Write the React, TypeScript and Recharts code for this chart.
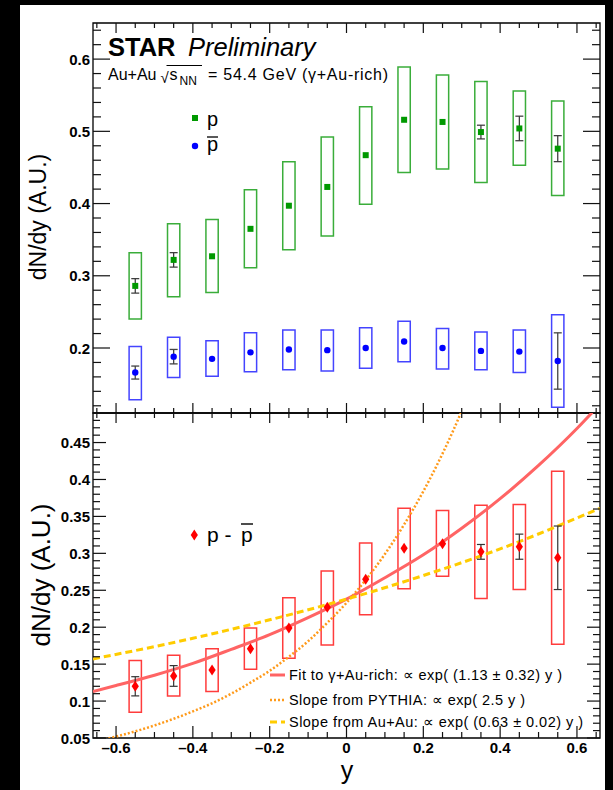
import React from 'react';
import { ComposedChart, XAxis, YAxis, Scatter, Line, ReferenceArea, ErrorBar } from 'recharts';

// ---------- data ----------
const rapidity = [-0.55, -0.45, -0.35, -0.25, -0.15, -0.05, 0.05, 0.15, 0.25, 0.35, 0.45, 0.55];

const protonVal = [0.286, 0.322, 0.327, 0.365, 0.397, 0.423, 0.467, 0.516, 0.513, 0.499, 0.504, 0.476];
const protonStat = [0.010, 0.010, 0, 0, 0, 0, 0, 0, 0, 0.0095, 0.017, 0.018];
const protonSysLo = [0.240, 0.271, 0.277, 0.311, 0.336, 0.355, 0.399, 0.443, 0.448, 0.429, 0.453, 0.411];
const protonSysHi = [0.332, 0.372, 0.378, 0.419, 0.458, 0.492, 0.534, 0.589, 0.578, 0.569, 0.556, 0.542];

const antiVal = [0.166, 0.188, 0.185, 0.194, 0.198, 0.197, 0.200, 0.209, 0.200, 0.196, 0.195, 0.182];
const antiStat = [0.009, 0.010, 0, 0, 0, 0, 0, 0, 0, 0, 0, 0.039];
const antiSysLo = [0.1285, 0.159, 0.161, 0.167, 0.170, 0.168, 0.172, 0.181, 0.171, 0.170, 0.166, 0.118];
const antiSysHi = [0.202, 0.215, 0.210, 0.221, 0.225, 0.225, 0.228, 0.237, 0.227, 0.222, 0.225, 0.246];

const netVal = [0.120, 0.134, 0.142, 0.171, 0.199, 0.227, 0.265, 0.307, 0.313, 0.302, 0.309, 0.294];
const netStat = [0.013, 0.014, 0, 0, 0, 0, 0, 0, 0, 0.010, 0.017, 0.043];
const netSysLo = [0.085, 0.107, 0.113, 0.143, 0.158, 0.176, 0.217, 0.252, 0.269, 0.239, 0.251, 0.177];
const netSysHi = [0.155, 0.162, 0.171, 0.199, 0.240, 0.276, 0.314, 0.361, 0.358, 0.365, 0.366, 0.411];

// curves
const fitX = [-0.66, -0.6, -0.5, -0.4, -0.3, -0.2, -0.1, 0, 0.1, 0.2, 0.3, 0.4, 0.5, 0.6, 0.66];
const fitY = [0.113, 0.121, 0.135, 0.151, 0.170, 0.190, 0.213, 0.238, 0.267, 0.298, 0.334, 0.374, 0.419, 0.469, 0.502];

const pythiaX = [-0.64, -0.6, -0.55, -0.5, -0.45, -0.4, -0.35, -0.3, -0.25, -0.2, -0.15, -0.1, -0.05, 0, 0.05, 0.1, 0.15, 0.2, 0.25, 0.3, 0.32];
const pythiaY = [0.047, 0.052, 0.059, 0.067, 0.076, 0.086, 0.097, 0.110, 0.125, 0.141, 0.160, 0.181, 0.206, 0.233, 0.264, 0.299, 0.339, 0.384, 0.435, 0.493, 0.519];

const auauX = [-0.66, -0.4, -0.2, 0, 0.2, 0.4, 0.66];
const auauY = [0.157, 0.185, 0.210, 0.238, 0.270, 0.306, 0.361];

// axes
const xDomain = [-0.66, 0.66];
const topDomain = [0.11, 0.65];
const botDomain = [0.05, 0.49];
const xMajor = [-0.6, -0.4, -0.2, 0, 0.2, 0.4, 0.6];
const xLabels = ['\u20130.6', '\u20130.4', '\u20130.2', '0', '0.2', '0.4', '0.6'];
const topMajor = [0.2, 0.3, 0.4, 0.5, 0.6];
const topLabels = ['0.2', '0.3', '0.4', '0.5', '0.6'];
const botMajor = [0.05, 0.1, 0.15, 0.2, 0.25, 0.3, 0.35, 0.4, 0.45];
const botLabels = ['0.05', '0.1', '0.15', '0.2', '0.25', '0.3', '0.35', '0.4', '0.45'];

const steps = (a: number, b: number, s: number) => {
  const out: number[] = [];
  for (let i = 0; a + i * s <= b + 1e-9; i++) out.push(Math.round((a + i * s) * 1000) / 1000);
  return out;
};
const xTicks = steps(-0.65, 0.65, 0.05);
const topTicks = steps(0.12, 0.64, 0.02);
const botTicks = steps(0.05, 0.49, 0.01);

// ---------- layout ----------
const W = 613;
const H = 790;
const L = 93;
const R = 600;
const T = 23;
const M = 413;
const B = 738;
const YAXIS_W = 60;
const XAXIS_H = 30;
const FONT = '"Liberation Sans", Arial, Helvetica, sans-serif';

const rows = (vals: number[], stat: number[]) => rapidity.map((x, i) => ({ x, y: vals[i], e: stat[i] }));
const curve = (xs: number[], ys: number[]) => xs.map((x, i) => ({ x, y: ys[i] }));

const findIdx = (arr: number[], v: number) => arr.findIndex((m) => Math.abs(m - v) < 1e-6);

const yTick = (majors: number[], labels: string[], majLen: number, minLen: number) => (p: any) => {
  const y = p.payload && typeof p.payload.coordinate === 'number' ? p.payload.coordinate : p.y;
  const idx = findIdx(majors, p.payload.value);
  const len = idx >= 0 ? majLen : minLen;
  return (
    <g>
      <line x1={L} x2={L + len} y1={y} y2={y} stroke="#111" strokeWidth={1.2} />
      <line x1={R - len} x2={R} y1={y} y2={y} stroke="#111" strokeWidth={1.2} />
      {idx >= 0 && (
        <text x={90} y={y} textAnchor="end" dominantBaseline="central" fontFamily={FONT} fontWeight="bold" fontSize={15} fill="#000">
          {labels[idx]}
        </text>
      )}
    </g>
  );
};

const xTick = (top: number, bottom: number, topMaj: number, botMaj: number, showLabels: boolean) => (p: any) => {
  const x = p.payload && typeof p.payload.coordinate === 'number' ? p.payload.coordinate : p.x;
  const idx = findIdx(xMajor, p.payload.value);
  const tl = idx >= 0 ? topMaj : topMaj / 2;
  const bl = idx >= 0 ? botMaj : botMaj / 2;
  return (
    <g>
      <line x1={x} x2={x} y1={top} y2={top + tl} stroke="#111" strokeWidth={1.2} />
      <line x1={x} x2={x} y1={bottom - bl} y2={bottom} stroke="#111" strokeWidth={1.2} />
      {showLabels && idx >= 0 && (
        <text x={x} y={753} textAnchor="middle" fontFamily={FONT} fontWeight="bold" fontSize={15} fill="#000">
          {xLabels[idx]}
        </text>
      )}
    </g>
  );
};

const square = (color: string) => (p: any) => <rect x={p.cx - 3} y={p.cy - 3} width={6} height={6} fill={color} />;
const circle = (color: string) => (p: any) => <circle cx={p.cx} cy={p.cy} r={3.2} fill={color} />;
const diamond = (color: string) => (p: any) => (
  <path d={`M${p.cx},${p.cy - 5.5} L${p.cx + 3.6},${p.cy} L${p.cx},${p.cy + 5.5} L${p.cx - 3.6},${p.cy} Z`} fill={color} />
);
const noShape = () => <g />;

const BOX_HALF = 0.016;

const boxes = (lo: number[], hi: number[], color: string, key: string) =>
  rapidity.map((x, i) => (
    <ReferenceArea
      key={`${key}${i}`}
      x1={x - BOX_HALF}
      x2={x + BOX_HALF}
      y1={lo[i]}
      y2={hi[i]}
      fill="none"
      fillOpacity={0}
      stroke={color}
      strokeWidth={1.5}
      ifOverflow="hidden"
    />
  ));

const errRows = (vals: number[], stat: number[]) => rows(vals, stat).filter((r) => r.e > 0);

export default function App() {
  return (
    <div style={{ position: 'absolute', left: 0, top: 0, width: W, height: H, background: '#000', overflow: 'hidden' }}>
      <div style={{ position: 'absolute', left: 20, top: 5, width: 585, height: 785, background: '#fff' }} />

      {/* top panel */}
      <div style={{ position: 'absolute', left: 0, top: 0 }}>
        <ComposedChart width={W} height={H} margin={{ top: T, right: W - R, bottom: H - M - XAXIS_H, left: L - YAXIS_W }}>
          <XAxis
            type="number"
            dataKey="x"
            domain={xDomain}
            allowDataOverflow
            ticks={xTicks}
            interval={0}
            height={XAXIS_H}
            axisLine={false}
            tickLine={false}
            tick={xTick(T, M, 10, 10, false)}
          />
          <YAxis
            type="number"
            dataKey="y"
            domain={topDomain}
            allowDataOverflow
            ticks={topTicks}
            interval={0}
            width={YAXIS_W}
            axisLine={false}
            tickLine={false}
            tick={yTick(topMajor, topLabels, 17, 8)}
          />
          {boxes(protonSysLo, protonSysHi, '#3aad3a', 'pb')}
          {boxes(antiSysLo, antiSysHi, '#4444ff', 'ab')}
          <Scatter data={errRows(protonVal, protonStat)} dataKey="y" shape={noShape} isAnimationActive={false}>
            <ErrorBar dataKey="e" direction="y" width={4} stroke="#333" strokeWidth={1.2} />
          </Scatter>
          <Scatter data={errRows(antiVal, antiStat)} dataKey="y" shape={noShape} isAnimationActive={false}>
            <ErrorBar dataKey="e" direction="y" width={4} stroke="#444" strokeWidth={1.3} />
          </Scatter>
          <Scatter data={rows(protonVal, protonStat)} dataKey="y" shape={square('#009900')} isAnimationActive={false} />
          <Scatter data={rows(antiVal, antiStat)} dataKey="y" shape={circle('#0000ff')} isAnimationActive={false} />
          <ReferenceArea x1={xDomain[0]} x2={xDomain[1]} y1={topDomain[0]} y2={topDomain[1]} fill="none" fillOpacity={0} stroke="#000" strokeWidth={1.3} />
        </ComposedChart>
      </div>

      {/* bottom panel */}
      <div style={{ position: 'absolute', left: 0, top: 0 }}>
        <ComposedChart width={W} height={H} margin={{ top: M, right: W - R, bottom: H - B - XAXIS_H, left: L - YAXIS_W }}>
          <XAxis
            type="number"
            dataKey="x"
            domain={xDomain}
            allowDataOverflow
            ticks={xTicks}
            interval={0}
            height={XAXIS_H}
            axisLine={false}
            tickLine={false}
            tick={xTick(M, B, 10, 12, true)}
          />
          <YAxis
            type="number"
            dataKey="y"
            domain={botDomain}
            allowDataOverflow
            ticks={botTicks}
            interval={0}
            width={YAXIS_W}
            axisLine={false}
            tickLine={false}
            tick={yTick(botMajor, botLabels, 13, 7)}
          />
          {boxes(netSysLo, netSysHi, '#ff3c3c', 'nb')}
          <Line data={curve(fitX, fitY)} dataKey="y" type="monotone" stroke="#ff6464" strokeWidth={3} dot={false} isAnimationActive={false} />
          <Line data={curve(pythiaX, pythiaY)} dataKey="y" type="monotone" stroke="#ff9a1a" strokeWidth={2.5} strokeDasharray="2 2" dot={false} isAnimationActive={false} />
          <Line data={curve(auauX, auauY)} dataKey="y" type="monotone" stroke="#ffcc00" strokeWidth={3} strokeDasharray="7 4" dot={false} isAnimationActive={false} />
          <Scatter data={errRows(netVal, netStat)} dataKey="y" shape={noShape} isAnimationActive={false}>
            <ErrorBar dataKey="e" direction="y" width={4} stroke="#333" strokeWidth={1.2} />
          </Scatter>
          <Scatter data={rows(netVal, netStat)} dataKey="y" shape={diamond('#ff0000')} isAnimationActive={false} />
          <ReferenceArea x1={xDomain[0]} x2={xDomain[1]} y1={botDomain[0]} y2={botDomain[1]} fill="none" fillOpacity={0} stroke="#000" strokeWidth={1.3} />
        </ComposedChart>
      </div>

      {/* texts */}
      <svg width={W} height={H} style={{ position: 'absolute', left: 0, top: 0 }} fontFamily={FONT}>
        <text x={108} y={56} fontSize={25.5} fontWeight="bold">STAR</text>
        <text x={188} y={56} fontSize={25.5} fontStyle="italic">Preliminary</text>
        <text x={108} y={80} fontSize={16}>Au+Au</text>
        <text x={160.5} y={83} fontSize={15}>{'\u221A'}</text>
        <line x1={166.5} x2={202} y1={65.5} y2={65.5} stroke="#000" strokeWidth={1} />
        <text x={169.5} y={80} fontSize={16}>s</text>
        <text x={179.5} y={84.5} fontSize={12}>NN</text>
        <text x={208} y={80} fontSize={16} textLength={180} lengthAdjust="spacing">= 54.4 GeV ({'\u03B3'}+Au-rich)</text>

        {/* top legend */}
        <rect x={192} y={115} width={6} height={6} fill="#009900" />
        <text x={207} y={126} fontSize={20}>p</text>
        <circle cx={195} cy={146} r={3.2} fill="#0000ff" />
        <text x={207} y={151} fontSize={20}>p</text>
        <line x1={207} x2={218} y1={137} y2={137} stroke="#000" strokeWidth={1.3} />

        {/* bottom legend */}
        <path d="M194.3,529.5 L197.9,535 L194.3,540.5 L190.7,535 Z" fill="#ff0000" />
        <text x={207} y={542} fontSize={21}>p -</text>
        <text x={241} y={542} fontSize={21}>p</text>
        <line x1={241} x2={253} y1={524} y2={524} stroke="#000" strokeWidth={1.4} />

        {/* fit legend */}
        <line x1={270} x2={285} y1={675} y2={675} stroke="#ff6464" strokeWidth={3} />
        <line x1={270} x2={285} y1={700} y2={700} stroke="#ff9a1a" strokeWidth={2.5} strokeDasharray="2 2" />
        <line x1={270} x2={285} y1={722} y2={722} stroke="#ffcc00" strokeWidth={3} strokeDasharray="7 4" />
        <text x={289} y={680} fontSize={14.5} textLength={273} lengthAdjust="spacing">Fit to {'\u03B3'}+Au-rich: {'\u221D'} exp( (1.13 {'\u00B1'} 0.32) y )</text>
        <text x={289} y={705} fontSize={14.5} textLength={236} lengthAdjust="spacing">Slope from PYTHIA: {'\u221D'} exp( 2.5 y )</text>
        <text x={289} y={727} fontSize={14.5} textLength={294} lengthAdjust="spacing">Slope from Au+Au: {'\u221D'} exp( (0.63 {'\u00B1'} 0.02) y )</text>

        {/* axis titles */}
        <text transform="translate(46,217) rotate(-90)" textAnchor="middle" fontSize={23}>dN/dy (A.U.)</text>
        <text transform="translate(50,575) rotate(-90)" textAnchor="middle" fontSize={26}>dN/dy (A.U.)</text>
        <text x={347} y={779} textAnchor="middle" fontSize={25}>y</text>
      </svg>
    </div>
  );
}
